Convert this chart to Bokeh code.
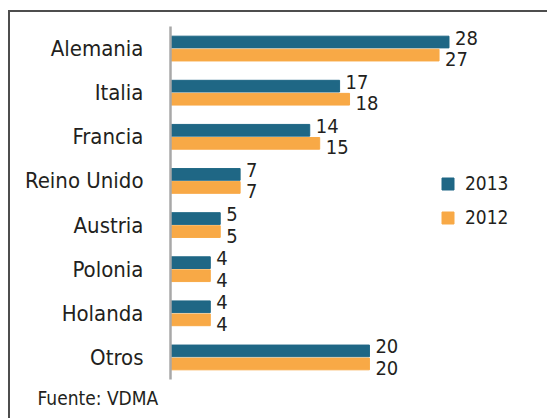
from bokeh.plotting import figure
from bokeh.models import ColumnDataSource, FactorRange, Range1d, Legend, LegendItem, Title
from bokeh.transform import dodge
from bokeh.core.properties import value
from bokeh.embed import file_html
from bokeh.resources import INLINE

countries = ["Alemania", "Italia", "Francia", "Reino Unido", "Austria", "Polonia", "Holanda", "Otros"]
v2013 = [28, 17, 14, 7, 5, 4, 4, 20]
v2012 = [27, 18, 15, 7, 5, 4, 4, 20]
series_names = ["2013", "2012"]
source_text = "Fuente: VDMA"

C2013 = "#1f6785"
C2012 = "#f8a946"
TXT = "#231f20"
FONT = "DejaVu Sans Condensed"

src = ColumnDataSource(dict(
    country=countries, v2013=v2013, v2012=v2012,
    l2013=[str(v) for v in v2013], l2012=[str(v) for v in v2012],
))

p = figure(width=539, height=408, output_backend="svg", toolbar_location=None,
           y_range=FactorRange(factors=list(reversed(countries))),
           x_range=Range1d(0, 37.2),
           min_border_left=160, min_border_right=9, min_border_top=14, min_border_bottom=41)
p.styles = {"border-left": "2px solid #4d4d4d", "border-top": "2px solid #4d4d4d",
            "margin-left": "8px", "margin-top": "10px"}
p.xaxis.visible = False
p.xgrid.visible = False
p.ygrid.visible = False
p.outline_line_color = None
p.background_fill_color = "white"
p.border_fill_color = "white"

yax = p.yaxis[0]
yax.axis_line_color = "#a8a8a8"
yax.axis_line_width = 2.5
yax.major_tick_line_color = None
yax.minor_tick_line_color = None
yax.major_label_text_font = FONT
yax.major_label_text_font_size = "22px"
yax.major_label_text_color = TXT
yax.major_label_standoff = 21

BH = 0.265
OFF = 0.148
r1 = p.hbar(y=dodge("country", OFF, range=p.y_range), left=0, right="v2013", height=BH,
            color=C2013, source=src)
r2 = p.hbar(y=dodge("country", -OFF, range=p.y_range), left=0, right="v2012", height=BH,
            color=C2012, source=src)

p.text(x="v2013", y=dodge("country", OFF + 0.1, range=p.y_range), text="l2013",
       x_offset=6, text_baseline="middle", text_align="left",
       text_font=value(FONT), text_font_size="20px", text_color=TXT, source=src)
p.text(x="v2012", y=dodge("country", -OFF - 0.09, range=p.y_range), text="l2012",
       x_offset=6, text_baseline="middle", text_align="left",
       text_font=value(FONT), text_font_size="20px", text_color=TXT, source=src)

legend = Legend(items=[LegendItem(label=series_names[0], renderers=[r1]),
                       LegendItem(label=series_names[1], renderers=[r2])],
                location=(270, 150), orientation="vertical",
                glyph_width=15, glyph_height=15, label_height=24, spacing=10,
                label_standoff=10, padding=0, margin=0,
                border_line_color=None, background_fill_alpha=0,
                label_text_font=FONT, label_text_font_size="19px", label_text_color=TXT)
p.add_layout(legend, "center")

p.add_layout(Title(text=source_text, align="left", offset=-133, standoff=10,
                   text_font=FONT, text_font_size="19px", text_font_style="normal",
                   text_color=TXT), "below")

open("out.html", "w").write(file_html(p, INLINE))
